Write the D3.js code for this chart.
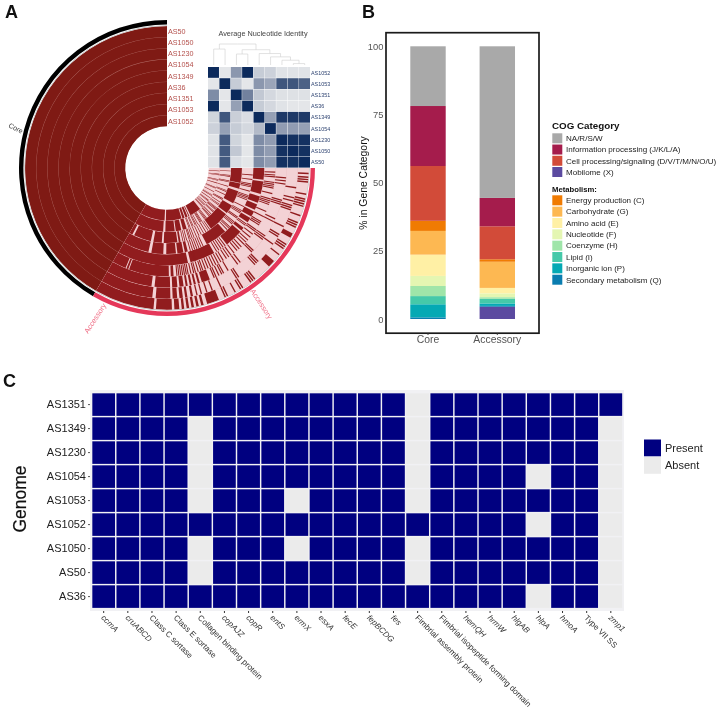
<!DOCTYPE html>
<html><head><meta charset="utf-8">
<script src="https://cdn.jsdelivr.net/npm/d3@7"></script>
<style>
html,body{margin:0;padding:0;background:#fff}
svg{display:block;font-family:"Liberation Sans",Arial,sans-serif;filter:blur(0.35px)}
</style></head><body><div id="c"></div>
<script>
// ---------- Panel A : pangenome rings ----------
const ringNames = ["AS50","AS1050","AS1230","AS1054","AS1349","AS36","AS1351","AS1053","AS1052"];
const coreEnd = 150, totalEnd = 270;
const blocks0 = [[150,174.5],[175.5,182],[183,185],[186,187],[188,189],[190,191],[192,193],[194,195],[196.5,201.5],[226,229],[240.5,242.5]];
const blocks1 = [[150,173.5],[175,181.5],[182.5,184.5],[185.5,187],[188,189],[190.5,191.5]];
const blocks2 = [[150,172.5],[174,181.5],[182.5,185],[186,188],[189,190],[191,192],[193,194],[195,196],[197,201]];
const blocks3 = [[150,157.5],[158,159],[159.5,181],[182,183.5]];
const blocks4 = [[150,192.5],[194,209],[218,229],[230,232],[236,239],[240,243.5],[244.5,248],[249,253],[254.5,262],[263,270]];
const blocks5 = [[150,167.5],[169.5,177.5],[179.5,186],[187,191],[192,194],[207.5,222.5]];
const blocks6 = [[150,152.5],[154,167.5],[169.5,176],[177.5,188],[189,190.5],[216,232],[233,240],[242,252],[254,258],[258.5,270]];
const blocks7 = [[150,176.5],[178.5,187],[188,193],[194.5,198]];
const blocks8 = [[150,177.3],[178.8,196],[197,199.5],[200.5,203],[204,205],[206.5,219]];
const lines0 = [204,205,208.5,211,212,216,217,218,232,235,236,237,245,246,247,250,254,255,256,257,259,264,265,266,267.5];
const lines1 = [193,195,197.5,200,204,212,213,222,223,224,234,238,239,243,251,252,253,255,256.5,261];
const lines2 = [203,204,205.5,207,208,210.5,216,217.5,225,226,233,234,235,243,244.5,252,253,254,262,263.5,265];
const lines3 = [185,186,187,188,189,190,191,192.5,194,195,196.5,198,199,200.5,202,203.5,205,206.5,208,209.5,211,213,214.5,216,218,220,221.5,223,225,226.5,228,230,232,234,235,238,239,240,243,246,250,251,252,253,256,259,260,261,262,265,266,267.5];
const lines4 = [196,197,210.5,212,213.5,215,216.5,233.5,234.5];
const lines5 = [195.5,197,198.5,200,201.5,203,204.5,224,225.5,226.5,229,230,231,234,235,238,239,240,243,248,249,250,251,254,257,258,259,262,265];
const lines6 = [192,193.5,195,197,198,199.5,201,203,205,207,209,211,213,214.5];
const lines7 = [200,201,203,204,206,207,208.5,211,212,213,216,217,218,221,222,223.5,226,227,229,230,231,234,235,237,240,241,245,248,249,253,257,258,262,263,267];
const lines8 = [222,223,225,226,228,231,232,235,238,239,243,247,248,253,256,257,262,263,266.5];
const ringBlocks = [blocks0,blocks1,blocks2,blocks3,blocks4,blocks5,blocks6,blocks7,blocks8];
const ringLines = [lines0,lines1,lines2,lines3,lines4,lines5,lines6,lines7,lines8];

// Average Nucleotide Identity
const aniNames = ["AS1052","AS1053","AS1351","AS36","AS1349","AS1054","AS1230","AS1050","AS50"];
const aniRow0 = [1.00,0.05,0.50,1.00,0.20,0.17,0.07,0.07,0.07];
const aniRow1 = [0.05,1.00,0.20,0.05,0.50,0.42,0.80,0.80,0.75];
const aniRow2 = [0.55,0.05,1.00,0.60,0.22,0.13,0.08,0.08,0.08];
const aniRow3 = [1.00,0.05,0.45,1.00,0.20,0.13,0.07,0.05,0.05];
const aniRow4 = [0.15,0.80,0.18,0.10,1.00,0.45,0.93,0.93,0.93];
const aniRow5 = [0.17,0.45,0.20,0.13,0.30,1.00,0.47,0.47,0.45];
const aniRow6 = [0.07,0.78,0.15,0.05,0.55,0.47,1.00,0.97,0.97];
const aniRow7 = [0.07,0.78,0.22,0.05,0.55,0.47,0.97,1.00,0.97];
const aniRow8 = [0.07,0.78,0.10,0.05,0.55,0.47,0.97,0.97,1.00];
const aniMatrix = [aniRow0,aniRow1,aniRow2,aniRow3,aniRow4,aniRow5,aniRow6,aniRow7,aniRow8];
// dendrogram: d = merge distance
const aniTree = {d:22,children:[
  {d:16.7,children:[{name:"AS1052"},{name:"AS1053"}]},
  {d:16,children:[
    {d:11.5,children:[{name:"AS1351"},{name:"AS36"}]},
    {d:12,children:[{name:"AS1349"},
      {d:8.5,children:[{name:"AS1054"},
        {d:5,children:[{name:"AS1230"},
          {d:1.5,children:[{name:"AS1050"},{name:"AS50"}]}]}]}]}]}]};

// ---------- Panel B : stacked bars ----------
const cogGroups = ["Core","Accessory"];
const cogKeys = ["Mobilome (X)","Secondary metabolism (Q)","Inorganic ion (P)","Lipid (I)","Coenzyme (H)","Nucleotide (F)","Amino acid (E)","Carbohydrate (G)","Energy production (C)","Cell processing/signaling (D/V/T/M/N/O/U)","Information processing (J/K/L/A)","NA/R/S/W"];
const cogColors = ["#5b4aa0","#0a7db0","#04a9b4","#45c9a9","#9fe5a9","#e4f6b2","#fff0a5","#fdb852","#f07b02","#d24b39","#a51c4c","#a9a9a9"];
const coreValues = [0,0.6,4.8,3.0,3.7,3.7,7.8,8.7,3.7,20.1,22.0,21.9];
const accessoryValues = [4.5,0.3,0.9,1.7,0.6,1.4,2.0,9.6,0.9,12.1,10.4,55.6];
const legendTop = ["NA/R/S/W","Information processing (J/K/L/A)","Cell processing/signaling (D/V/T/M/N/O/U)","Mobilome (X)"];
const legendMetabolism = ["Energy production (C)","Carbohydrate (G)","Amino acid (E)","Nucleotide (F)","Coenzyme (H)","Lipid (I)","Inorganic ion (P)","Secondary metabolism (Q)"];
const yTicks = [0,25,50,75,100];

// ---------- Panel C : gene presence ----------
const genomes = ["AS1351","AS1349","AS1230","AS1054","AS1053","AS1052","AS1050","AS50","AS36"];
const genes = ["ccmA","cruABCD","Class C sortase","Class E sortase","Collagen binding protein","copAJZ","copR","entS","ermX","esxA","fecE","fepBCDG","fes","Fimbrial assembly protein","Fimbrial isopeptide forming domain","hemQH","hrmW","hlgAB","hlpA","hmoA","Type VII SS","zmp1"];
const plainGenes = ["Class C sortase","Class E sortase","Collagen binding protein","Fimbrial assembly protein","Fimbrial isopeptide forming domain","Type VII SS"];
const absent1351 = ["Fimbrial assembly protein"];
const absent1349 = ["Collagen binding protein","Fimbrial assembly protein","zmp1"];
const absent1230 = ["Collagen binding protein","Fimbrial assembly protein","zmp1"];
const absent1054 = ["Collagen binding protein","Fimbrial assembly protein","hlpA","zmp1"];
const absent1053 = ["Collagen binding protein","ermX","Fimbrial assembly protein","zmp1"];
const absent1052 = ["hlpA","zmp1"];
const absent1050 = ["Collagen binding protein","ermX","Fimbrial assembly protein","zmp1"];
const absent50 = ["Collagen binding protein","Fimbrial assembly protein","zmp1"];
const absent36 = ["hlpA","zmp1"];
const absentByGenome = [absent1351,absent1349,absent1230,absent1054,absent1053,absent1052,absent1050,absent50,absent36];
const presenceLegend = ["Present","Absent"];

const svg = d3.select("#c").append("svg").attr("width",720).attr("height",710);

// panel letters
[["A",5,18],["B",362,18],["C",3,387]].forEach(([t,x,y])=>{
  svg.append("text").attr("x",x).attr("y",y).attr("font-size",18).attr("font-weight","bold").attr("fill","#111").text(t);
});

// ===== A =====
const cx=167, cy=168;
const gA = svg.append("g").attr("transform",`translate(${cx},${cy})`);
const ang = d3.scaleLinear().domain([0,totalEnd]).range([0,-1.5*Math.PI]);
const rad = d3.scaleBand().domain(ringNames).range([141.8,41.8]).paddingInner(0.025);
const arc = d3.arc();
const COREC="#7f1a14", ACC="#911c1e", PALE="#f3d2d5";
const ringG = gA.append("g");
// faint separators: underlay tints behind the rings
ringG.append("path").attr("fill","#b5706b").attr("d",arc({innerRadius:42,outerRadius:141.8,startAngle:ang(0),endAngle:ang(coreEnd)}));
ringG.append("path").attr("fill","#ecbfc2").attr("d",arc({innerRadius:42,outerRadius:141.8,startAngle:ang(coreEnd),endAngle:ang(totalEnd)}));
ringNames.forEach((name,i)=>{
  const inner = rad(name), outer = inner + rad.bandwidth();
  const seg=(a,b,f)=>ringG.append("path").attr("fill",f)
     .attr("d",arc({innerRadius:inner,outerRadius:outer,startAngle:ang(a),endAngle:ang(b)}));
  seg(0,coreEnd,COREC);
  seg(coreEnd,totalEnd,PALE);
  ringBlocks[i].forEach(b=>seg(b[0],b[1],ACC));
  ringLines[i].forEach(p=>seg(p,p+0.6,ACC));
});
// outer thin gray line and category arcs
gA.append("path").attr("fill","#b9b9b9").attr("d",arc({innerRadius:142.1,outerRadius:142.7,startAngle:ang(0),endAngle:ang(totalEnd)}));
gA.append("path").attr("fill","#000").attr("d",arc({innerRadius:143.6,outerRadius:148,startAngle:ang(0),endAngle:ang(coreEnd)}));
gA.append("path").attr("fill","#e5385a").attr("d",arc({innerRadius:143.6,outerRadius:148,startAngle:ang(coreEnd),endAngle:ang(totalEnd)}));
// ring labels
const ringLabelY = d3.scalePoint().domain(ringNames).range([31,121]);
svg.append("g").selectAll("text").data(ringNames).join("text")
  .attr("x",168).attr("y",d=>ringLabelY(d)).attr("dy","0.35em")
  .attr("font-size",7.2).attr("fill","#b4504c").text(d=>d);
svg.append("text").attr("transform","translate(8,127) rotate(27)").attr("font-size",7).attr("fill","#333").text("Core");
svg.append("text").attr("transform","translate(88,334) rotate(-57)").attr("font-size",7.4).attr("fill","#ef6f86").text("Accessory");
svg.append("text").attr("transform","translate(250,291) rotate(57)").attr("font-size",7.4).attr("fill","#ef6f86").text("Accessory");

// ANI heatmap
const hx = d3.scaleBand().domain(aniNames).range([208,310.4]);
const hy = d3.scaleBand().domain(aniNames).range([67,168]);
const hc = d3.scaleLinear().domain([0,0.5,1]).range(["#eeeff0","#8b97ae","#0c2a5c"]);
const gH = svg.append("g");
aniNames.forEach((rn,ri)=>aniNames.forEach((cn,ci)=>{
  gH.append("rect").attr("x",hx(cn)).attr("y",hy(rn)).attr("width",hx.bandwidth()-0.4).attr("height",hy.bandwidth()-0.4)
    .attr("fill",hc(aniMatrix[ri][ci]));
}));
svg.append("g").selectAll("text").data(aniNames).join("text")
  .attr("x",311).attr("y",d=>hy(d)+hy.bandwidth()/2).attr("dy","0.35em")
  .attr("font-size",5.4).attr("fill","#2a3f6e").text(d=>d);
svg.append("text").attr("x",263).attr("y",35.5).attr("text-anchor","middle").attr("font-size",7.3).attr("fill","#444").text("Average Nucleotide Identity");
// dendrogram
const root = d3.hierarchy(aniTree);
const dy = d3.scaleLinear().domain([0,22]).range([65,44]);
root.eachAfter(n=>{ n.px = n.children ? d3.mean(n.children,c=>c.px) : hx(n.data.name)+hx.bandwidth()/2; });
const gD = svg.append("g").attr("fill","none").attr("stroke","#cfcfcf").attr("stroke-width",0.6);
root.links().forEach(l=>{
  const p=d3.path(); p.moveTo(l.source.px,dy(l.source.data.d)); p.lineTo(l.target.px,dy(l.source.data.d));
  p.lineTo(l.target.px,dy(l.target.data.d||0)); gD.append("path").attr("d",p.toString());
});

// ===== B =====
const yB = d3.scaleLinear().domain([0,100]).range([319,46.3]);
const xB = d3.scaleBand().domain(cogGroups).range([393.35,531.95]).paddingInner(0.489).paddingOuter(0.2445);
const rows = cogGroups.map((g,gi)=>{
  const o={group:g}; cogKeys.forEach((k,ki)=>o[k]=(gi===0?coreValues:accessoryValues)[ki]); return o;
});
const stacked = d3.stack().keys(cogKeys)(rows);
const cB = d3.scaleOrdinal().domain(cogKeys).range(cogColors);
svg.append("g").selectAll("g").data(stacked).join("g").attr("fill",d=>cB(d.key))
 .selectAll("rect").data(d=>d).join("rect")
 .attr("x",d=>xB(d.data.group)).attr("width",xB.bandwidth())
 .attr("y",d=>yB(d[1])).attr("height",d=>yB(d[0])-yB(d[1]));
svg.append("rect").attr("x",386).attr("y",32.7).attr("width",153).attr("height",300.5).attr("fill","none").attr("stroke","#1a1a1a").attr("stroke-width",1.7);
const axY = svg.append("g").attr("transform","translate(384.5,0)").call(d3.axisLeft(yB).tickValues(yTicks).tickSize(0).tickPadding(1));
axY.select(".domain").remove();
axY.selectAll("text").attr("font-size",9.4).attr("fill","#555").attr("font-family","inherit");
const axX = svg.append("g").attr("transform","translate(0,333.5)").call(d3.axisBottom(xB).tickSize(1.5).tickPadding(1));
axX.select(".domain").remove();
axX.selectAll("text").attr("font-size",10.4).attr("fill","#555").attr("font-family","inherit");
axX.selectAll("line").attr("stroke","#444");
svg.append("text").attr("transform","translate(367,183) rotate(-90)").attr("text-anchor","middle").attr("font-size",10.4).attr("fill","#111").text("% in Gene Category");
// legend
svg.append("text").attr("x",552).attr("y",129).attr("font-size",9.8).attr("font-weight","bold").attr("fill","#111").text("COG Category");
const legY1 = d3.scalePoint().domain(legendTop).range([138.3,172]);
const legY2 = d3.scalePoint().domain(legendMetabolism).range([200.3,279.7]);
const drawLeg=(arr,sc)=>arr.forEach(k=>{
  svg.append("rect").attr("x",552.3).attr("y",sc(k)-5).attr("width",10).attr("height",10).attr("fill",cB(k));
  svg.append("text").attr("x",566).attr("y",sc(k)).attr("dy","0.35em").attr("font-size",8.02).attr("fill","#222").text(k);
});
drawLeg(legendTop,legY1); drawLeg(legendMetabolism,legY2);
svg.append("text").attr("x",552).attr("y",192).attr("font-size",7.7).attr("font-weight","bold").attr("fill","#111").text("Metabolism:");

// ===== C =====
svg.append("rect").attr("x",90).attr("y",390).attr("width",534).attr("height",221).attr("fill","#f1f1f4");
const xC = d3.scaleBand().domain(genes).range([91.6,622.9]).paddingInner(0.06).paddingOuter(0.03);
const yC = d3.scaleBand().domain(genomes).range([392.6,608.6]).paddingInner(0.06).paddingOuter(0.03);
genomes.forEach((gm,ri)=>{
  svg.append("g").selectAll("rect").data(genes).join("rect")
    .attr("x",d=>xC(d)).attr("y",yC(gm)).attr("width",xC.bandwidth()).attr("height",yC.bandwidth())
    .attr("fill",d=>absentByGenome[ri].includes(d)?"#ebebeb":"#000080");
});
const axYC = svg.append("g").attr("transform","translate(90,0)").call(d3.axisLeft(yC).tickSize(2).tickPadding(2));
axYC.select(".domain").remove();
axYC.selectAll("text").attr("font-size",11).attr("fill","#222").attr("font-family","inherit");
axYC.selectAll("line").attr("stroke","#555");
const axXC = svg.append("g").attr("transform","translate(0,611)").call(d3.axisBottom(xC).tickSize(2));
axXC.select(".domain").remove();
axXC.selectAll("line").attr("stroke","#333");
axXC.selectAll("text").attr("font-size",8.1).attr("fill","#333").attr("font-family","inherit")
  .attr("text-anchor","start").attr("transform","translate(0.5,1) rotate(45)").attr("x",2).attr("y",4).attr("dy","0.35em")
  .attr("font-style",d=>plainGenes.includes(d)?"normal":"italic");
svg.append("text").attr("transform","translate(26,499) rotate(-90)").attr("text-anchor","middle").attr("font-size",17.5).attr("fill","#111").attr("stroke","#111").attr("stroke-width",0.2).text("Genome");
const cLeg = d3.scaleOrdinal().domain(presenceLegend).range(["#000080","#ebebeb"]);
presenceLegend.forEach((k,i)=>{
  svg.append("rect").attr("x",644).attr("y",439.5+i*17.5).attr("width",17).attr("height",16.8).attr("fill",cLeg(k));
  svg.append("text").attr("x",665).attr("y",448+i*17).attr("dy","0.35em").attr("font-size",11).attr("fill","#222").text(k);
});
</script></body></html>
